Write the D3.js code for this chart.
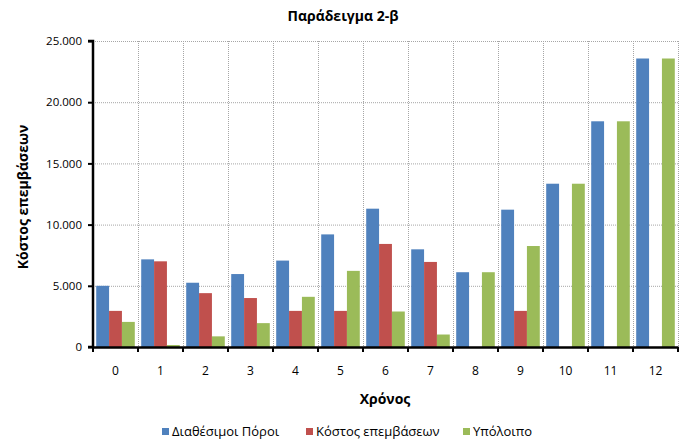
<!DOCTYPE html>
<html>
<head>
<meta charset="utf-8">
<script src="https://cdn.jsdelivr.net/npm/d3@7"></script>
<style>
  html, body { margin: 0; padding: 0; background: #fff; }
  svg { display: block; font-family: "Open Sans", "Noto Sans", "DejaVu Sans", sans-serif; }
</style>
</head>
<body>
<svg id="chart" width="688" height="447"></svg>
<script>
const categories = ["0","1","2","3","4","5","6","7","8","9","10","11","12"];
const seriesNames = ["Διαθέσιμοι Πόροι", "Κόστος επεμβάσεων", "Υπόλοιπο"];
const resources = [5000, 7160, 5250, 5960, 7060, 9200, 11300, 7980, 6110, 11220, 13340, 18440, 23570];
const costs     = [2950, 7000, 4400, 4000, 2950, 2950, 8420, 6950, 0, 2950, 0, 0, 0];
const remainder = [2050, 160, 870, 1950, 4100, 6220, 2900, 1020, 6110, 8250, 13340, 18440, 23570];
const yTicks = [0, 5000, 10000, 15000, 20000, 25000];
const colors = ["#4F81BD", "#C0504D", "#9BBB59"];
const title = "Παράδειγμα 2-β";
const xTitle = "Χρόνος";
const yTitle = "Κόστος επεμβάσεων";

const series = [resources, costs, remainder];
const svg = d3.select("#chart");
const x0 = 93, x1 = 678, yTop = 41, yBot = 347;
const FONT = "'Open Sans', 'Noto Sans', sans-serif";

const x = d3.scaleBand().domain(categories).range([x0, x1]).paddingInner(0).paddingOuter(0);
const xs = d3.scaleBand().domain(d3.range(3)).range([0, x.bandwidth()]).paddingInner(0).paddingOuter(0.25);
const y = d3.scaleLinear().domain([0, 25000]).range([yBot, yTop]);

// gridlines
const grid = svg.append("g");
grid.selectAll("line.h").data(yTicks.slice(1)).join("line")
  .attr("x1", x0).attr("x2", x1)
  .attr("y1", d => y(d) + 0.5).attr("y2", d => y(d) + 0.5)
  .attr("stroke", "#a6a6a6").attr("stroke-width", 1).attr("stroke-dasharray", "1,1");
grid.selectAll("line.v").data(d3.range(1, categories.length + 1)).join("line")
  .attr("x1", i => x0 + x.bandwidth() * i + 0.5)
  .attr("x2", i => x0 + x.bandwidth() * i + 0.5)
  .attr("y1", yTop).attr("y2", yBot)
  .attr("stroke", "#a6a6a6").attr("stroke-width", 1).attr("stroke-dasharray", "1,1");

// bars
const gBars = svg.append("g");
series.forEach((vals, si) => {
  gBars.selectAll(null).data(vals).join("rect")
    .attr("x", (d, i) => x(categories[i]) + xs(si))
    .attr("width", xs.bandwidth())
    .attr("y", d => y(d))
    .attr("height", d => yBot - y(d))
    .attr("fill", colors[si]);
});

// y axis
const yAxis = d3.axisLeft(y).tickValues(yTicks).tickSize(5).tickPadding(6)
  .tickFormat(d => d === 0 ? "0" : d3.format(",")(d).replace(/,/g, "."));
const gy = svg.append("g").attr("transform", `translate(${x0},0)`).call(yAxis);
gy.select(".domain").attr("stroke", "#000").attr("stroke-width", 2.5).attr("d", `M-5,${yTop}H0V${yBot}H-5`);
gy.selectAll(".tick line").attr("stroke", "#000").attr("stroke-width", 2);
gy.selectAll(".tick text").attr("font-size", 11.5).attr("fill", "#000").attr("font-family", FONT);

// x axis
const xAxis = d3.axisBottom(x).tickSize(0).tickPadding(19);
const gx = svg.append("g").attr("transform", `translate(0,${yBot})`).call(xAxis);
gx.select(".domain").attr("stroke", "#000").attr("stroke-width", 2.5);
gx.selectAll(".tick text").attr("font-size", 12).attr("fill", "#000").attr("font-family", FONT);
gx.selectAll("line.bt").data(d3.range(categories.length + 1)).join("line")
  .attr("x1", i => x0 + i * x.bandwidth()).attr("x2", i => x0 + i * x.bandwidth())
  .attr("y1", 0).attr("y2", 5).attr("stroke", "#000").attr("stroke-width", 2);

// titles
svg.append("text").attr("x", 343).attr("y", 21).attr("text-anchor", "middle")
  .attr("font-size", 14).attr("font-weight", "bold").text(title);
svg.append("text").attr("x", 385).attr("y", 404).attr("text-anchor", "middle")
  .attr("font-size", 14).attr("font-weight", "bold").text(xTitle);
svg.append("text").attr("transform", `translate(28,${(yTop + yBot) / 2 + 3}) rotate(-90)`)
  .attr("text-anchor", "middle").attr("font-size", 14).attr("font-weight", "bold").text(yTitle);

// legend
const legendX = [162, 306, 463];
const lg = svg.append("g");
seriesNames.forEach((n, i) => {
  lg.append("rect").attr("x", legendX[i]).attr("y", 428).attr("width", 7).attr("height", 7).attr("fill", colors[i]);
  lg.append("text").attr("x", legendX[i] + 10).attr("y", 436).attr("font-size", 13).attr("fill", "#000").text(n);
});
</script>
</body>
</html>
